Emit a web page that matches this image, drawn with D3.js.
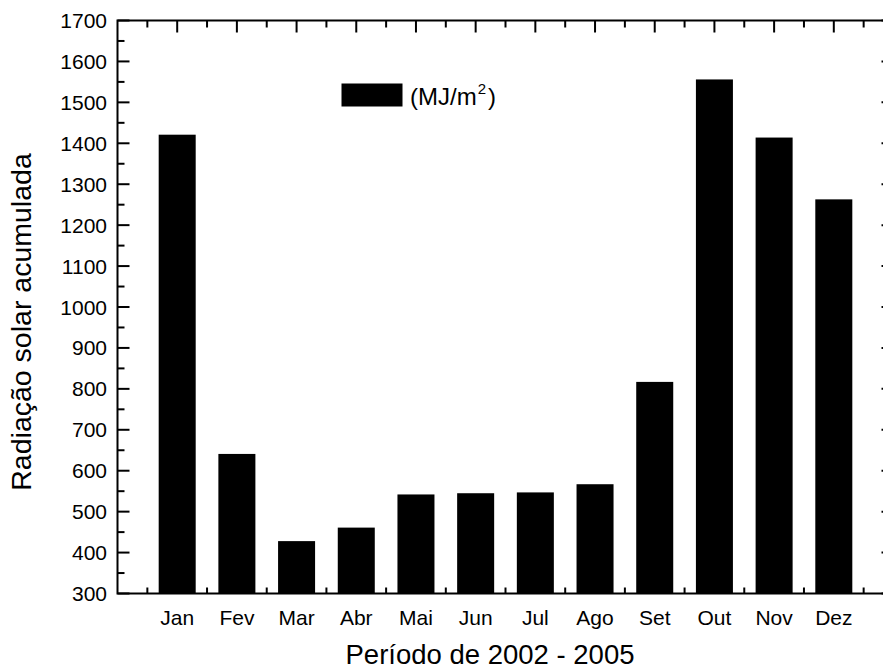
<!DOCTYPE html>
<html>
<head>
<meta charset="utf-8">
<script src="https://cdn.jsdelivr.net/npm/d3@7"></script>
<style>
  body { margin: 0; background: #fff; }
  svg { display: block; }
  text { font-family: "Liberation Sans", Arial, sans-serif; fill: #000; }
</style>
</head>
<body>
<svg id="chart" width="883" height="669"></svg>
<script>
// Monthly accumulated solar radiation, 2002–2005
const months = ["Jan", "Fev", "Mar", "Abr", "Mai", "Jun", "Jul", "Ago", "Set", "Out", "Nov", "Dez"];
const radiation = [1421, 641, 428, 461, 542, 545, 547, 567, 817, 1556, 1414, 1263];
const yTicks = [300, 400, 500, 600, 700, 800, 900, 1000, 1100, 1200, 1300, 1400, 1500, 1600, 1700];
const legendLabel = "(MJ/m";
const xTitle = "Período de 2002 - 2005";
const yTitle = "Radiação solar acumulada";

const svg = d3.select("#chart");
const plotL = 117.5, plotR = 893.5, plotT = 20.5, plotB = 593.5;

// Categories sit at positions 1..12 on a 0..13 linear axis
const x = d3.scaleLinear().domain([0, 13]).range([plotL, plotR]);
const y = d3.scaleLinear().domain([300, 1700]).range([plotB, plotT]);
const barW = 0.62;

// Bars
svg.append("g").selectAll("rect")
  .data(radiation)
  .join("rect")
  .attr("x", (d, i) => x(i + 1 - barW / 2))
  .attr("width", (d, i) => x(i + 1 + barW / 2) - x(i + 1 - barW / 2))
  .attr("y", d => y(d))
  .attr("height", d => y(300) - y(d))
  .attr("fill", "#000");

// Tick positions
const majorX = d3.range(1, 13);
const minorX = d3.range(0.5, 13, 1);
const majorY = yTicks;
const minorY = d3.range(350, 1700, 100);
const ticks = svg.append("g").attr("stroke", "#000").attr("stroke-width", 2);

function tickSet(data, x1, x2, y1, y2) {
  ticks.append("g").selectAll("line").data(data).join("line")
    .attr("x1", x1).attr("x2", x2).attr("y1", y1).attr("y2", y2);
}
// Top axis (inward)
tickSet(majorX, d => x(d), d => x(d), plotT, plotT + 12);
tickSet(minorX, d => x(d), d => x(d), plotT, plotT + 7);
// Bottom axis (inward)
tickSet(majorX, d => x(d), d => x(d), plotB, plotB - 12);
tickSet(minorX, d => x(d), d => x(d), plotB, plotB - 6);
// Left axis (inward)
tickSet(majorY, plotL, plotL + 12, d => y(d), d => y(d));
tickSet(minorY, plotL, plotL + 7, d => y(d), d => y(d));
// Right axis (inward)
tickSet(majorY, plotR, plotR - 12, d => y(d), d => y(d));
tickSet(minorY, plotR, plotR - 7, d => y(d), d => y(d));

// Frame
svg.append("rect")
  .attr("x", plotL).attr("y", plotT)
  .attr("width", plotR - plotL).attr("height", plotB - plotT)
  .attr("fill", "none").attr("stroke", "#000").attr("stroke-width", 2);

// Y tick labels
svg.append("g").selectAll("text").data(yTicks).join("text")
  .attr("x", 107).attr("y", d => y(d)).attr("dy", "0.36em")
  .attr("text-anchor", "end").attr("font-size", 21)
  .text(d => d);

// X tick labels
svg.append("g").selectAll("text").data(months).join("text")
  .attr("x", (d, i) => x(i + 1)).attr("y", 625)
  .attr("text-anchor", "middle").attr("font-size", 21)
  .text(d => d);

// Axis titles
svg.append("text")
  .attr("x", 490).attr("y", 664)
  .attr("text-anchor", "middle").attr("font-size", 27.5)
  .text(xTitle);
svg.append("text")
  .attr("transform", "translate(31,322) rotate(-90)")
  .attr("text-anchor", "middle").attr("font-size", 28.5)
  .text(yTitle);

// Legend
svg.append("rect")
  .attr("x", 341.5).attr("y", 83.5).attr("width", 61).attr("height", 23)
  .attr("fill", "#000");
const lt = svg.append("text")
  .attr("x", 410).attr("y", 105).attr("font-size", 24);
lt.append("tspan").text(legendLabel);
lt.append("tspan").attr("font-size", 15).attr("dx", 1).attr("dy", -11).text("2");
lt.append("tspan").attr("dx", 2).attr("dy", 11).text(")");
</script>
</body>
</html>
